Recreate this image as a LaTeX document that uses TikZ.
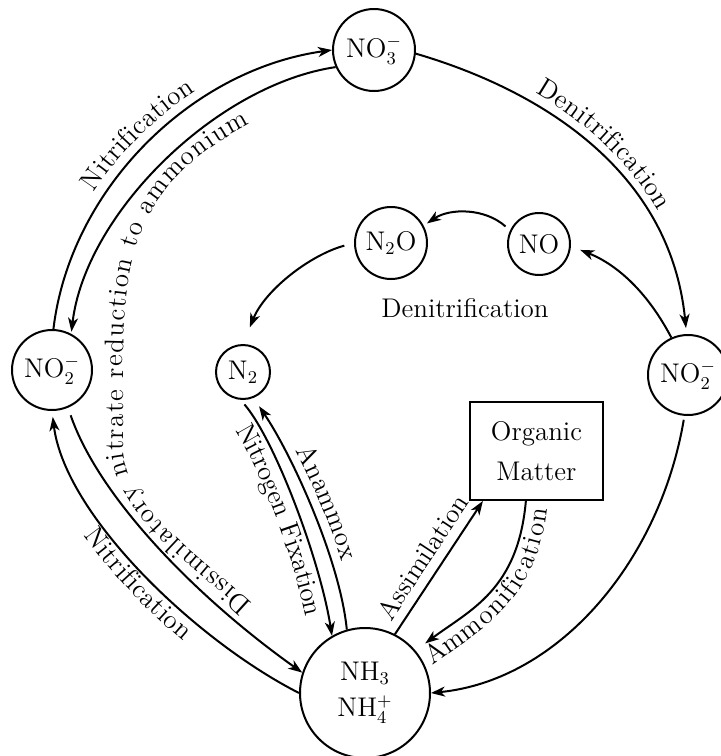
\documentclass[tikz,border=0pt]{standalone}
\usepackage{fontspec}
\usetikzlibrary{arrows.meta,decorations.text,calc}
\newcommand\lblsize{\fontsize{13.5}{16}\selectfont}
\begin{document}
\begin{tikzpicture}[x=0.5pt,y=-0.5pt,
  every node/.style={font=\lblsize},
  cnode/.style={draw, circle, line width=1pt, inner sep=0pt},
  conn/.style={line width=1pt, -{Stealth[length=7pt,width=5pt,inset=2pt]}},
]
\useasboundingbox (0,0) rectangle (720,756);

% nodes
\node[cnode, minimum size=41pt] (no3) at (374,50) {NO$_3^-$};
\node[cnode, minimum size=40pt] (no2l) at (52,370) {NO$_2^-$};
\node[cnode, minimum size=40pt] (no2r) at (688,375) {NO$_2^-$};
\node[cnode, minimum size=36pt] (n2o) at (391,243) {N$_2$O};
\node[cnode, minimum size=31pt] (no) at (539,244) {NO};
\node[cnode, minimum size=27pt] (n2) at (243,372) {N$_2$};
\node[cnode, minimum size=65pt, align=center] (nh3) at (365,693) {NH$_3$\\[2pt]NH$_4^+$};
\node[draw, line width=1pt, minimum width=66.5pt, minimum height=49pt, align=center] (om) at (536.5,451) {Organic\\[4pt]Matter};
\node (dlbl) at (465,308) {Denitrification};

% connectors
\draw[conn] (no2l.88) .. controls (70,190) and (190,70) .. (no3.180);
\draw[conn, shorten >=1pt] (no3.204) .. controls (215,85) and (85,215) .. (no2l.62);
\draw[conn, shorten >=3pt] (no3.-5) .. controls (540,90) and (670,170) .. (no2r.92);
\draw[conn, shorten >=5pt] (no2r.114) .. controls (648,293) and (618,265) .. (no.-4);
\draw[conn, shorten <=3pt, shorten >=2pt] (no.155) .. controls (485,208) and (450,208) .. (n2o.28);
\draw[conn, shorten <=5pt, shorten >=9pt] (n2o.180) .. controls (310,255) and (265,290) .. (n2.90);
\draw[conn, shorten <=3pt] (n2.-95) .. controls (275,440) and (320,560) .. (nh3.120);
\draw[conn, shorten >=5pt] (nh3.106) .. controls (340,560) and (292,455) .. (n2.-68);
\draw[conn, shorten >=3pt] (nh3.180) .. controls (195,640) and (65,515) .. (no2l.-90);
\draw[conn, shorten <=4pt] (no2l.-67) .. controls (100,500) and (200,600) .. (nh3.162);
\draw[conn] (nh3.63) -- (om.-137);
\draw[conn, shorten >=6pt] (om.-102) .. controls (518,590) and (470,610) .. (nh3.40);
\draw[conn, shorten <=2pt] (no2r.-95) .. controls (660,560) and (560,680) .. (nh3.0);

% labels along paths
\path[decorate, decoration={text along path, text align=center, raise=5pt,
  text={|\lblsize|Nitrification}}]
  (no2l.88) .. controls (70,190) and (190,70) .. (no3.180);
\path[decorate, decoration={text along path, text align=center, raise=5pt,
  text={|\lblsize|Denitrification}}]
  (no3.-5) .. controls (540,90) and (670,170) .. (no2r.92);
\path[decorate, decoration={text along path, text align=center, raise=-11pt,
  text={|\lblsize|Nitrification}}]
  (no2l.-90) .. controls (65,515) and (195,640) .. (nh3.180);
\path[decorate, decoration={text along path, text align={fit to path}, raise=0pt,
  text={|\lblsize|Dissimilatory nitrate reduction to ammonium}}]
  (252,604) .. controls (200,555) and (128,510) .. (123,450) -- (123,370)
  .. controls (123,240) and (145,180) .. (250,124);
\path[decorate, decoration={text along path, text align=center, raise=-11pt,
  text={|\lblsize|Nitrogen Fixation}}]
  (n2.-95) .. controls (275,440) and (320,560) .. (nh3.120);
\path[decorate, decoration={text along path, text align=center, raise=5pt,
  text={|\lblsize|Anammox}}]
  (n2.-68) .. controls (292,455) and (340,560) .. (nh3.106);
\path[decorate, decoration={text along path, text align=center, raise=5pt,
  text={|\lblsize|Assimilation}}]
  ($(nh3.63)!-8pt!(om.-137)$) -- ($(om.-137)!-8pt!(nh3.63)$);
\path[decorate, decoration={text along path, text align=center, raise=-11pt,
  text={|\lblsize|Ammonification}}]
  (nh3.40) .. controls (470,610) and (518,590) .. (om.-102);
\end{tikzpicture}
\end{document}
